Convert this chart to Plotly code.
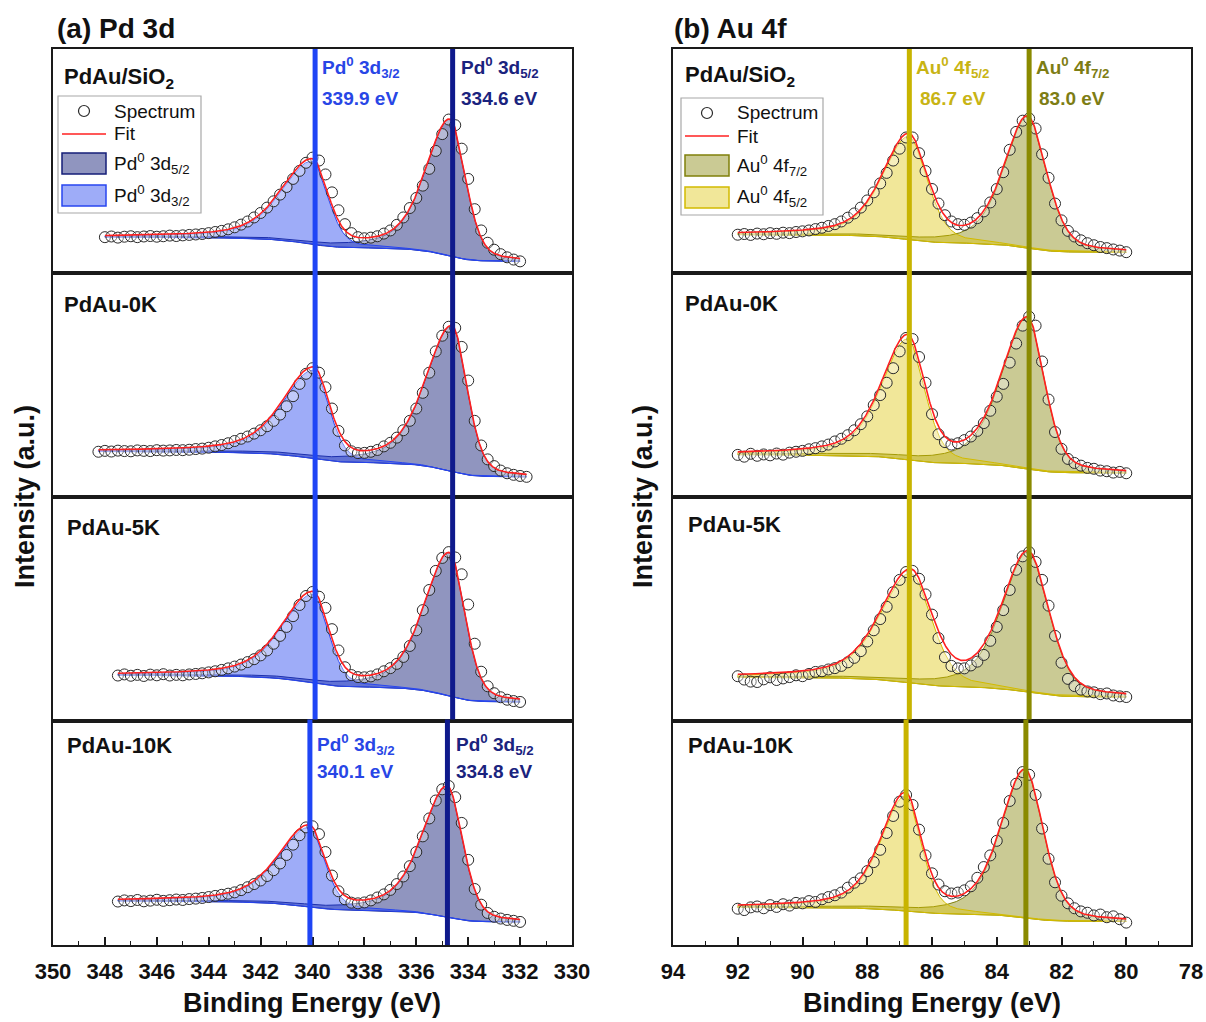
import numpy as np
import plotly.graph_objects as go
from plotly.subplots import make_subplots

FONT = "Liberation Sans, Arial, sans-serif"

# ---------------- data ----------------
sample_names = ["PdAu/SiO<sub>2</sub>", "PdAu-0K", "PdAu-5K", "PdAu-10K"]

# Pd 3d spectra (normalised intensity, % of panel height), energies descend by pd_step
pd_step = 0.25
pd_start = [348.0, 348.25, 347.5, 347.5]
pd_spec_sio2 = [16.0, 16.3, 15.8, 16.2, 16.4, 16.0, 16.3, 16.5, 16.2, 16.4, 16.7, 16.5, 16.8, 17.0, 17.2,
                17.4, 17.8, 18.3, 18.8, 19.5, 20.4, 21.6, 23.0, 24.8, 26.8, 29.2, 32.0, 35.0, 38.4, 42.0,
                45.6, 49.2, 51.5, 50.2, 44.0, 36.0, 28.0, 21.8, 17.8, 16.0, 15.5, 15.8, 16.4, 17.6, 19.0,
                21.5, 24.8, 29.0, 33.5, 39.0, 46.5, 54.5, 62.0, 68.5, 66.0, 55.5, 42.0, 28.5, 19.0, 13.5,
                10.4, 8.4, 7.0, 6.0, 5.2]
pd_spec_0k = [20.2, 20.6, 20.3, 20.7, 20.5, 20.4, 20.8, 20.6, 20.5, 20.9, 20.7, 20.8, 21.0, 20.9, 21.1,
              21.4, 21.6, 22.0, 22.6, 23.2, 24.0, 25.0, 26.0, 27.0, 28.3, 29.8, 31.6, 34.0, 36.8, 40.5,
              45.0, 50.5, 55.0, 57.5, 55.5, 49.0, 39.5, 29.5, 23.0, 20.4, 19.6, 19.7, 20.2, 21.0, 22.6,
              24.2, 26.5, 29.8, 34.0, 39.5, 46.5, 55.5, 65.0, 72.0, 76.0, 75.5, 67.0, 52.0, 34.0, 23.0,
              16.8, 13.8, 11.8, 10.6, 9.9, 9.4, 9.0]
pd_spec_5k = [20.3, 20.8, 20.2, 20.6, 20.1, 20.7, 20.4, 20.9, 20.3, 20.6, 20.4, 20.8, 21.0, 21.3, 21.7,
              22.2, 22.8, 23.5, 24.3, 25.2, 26.3, 27.6, 29.3, 31.5, 34.5, 38.0, 42.0, 46.8, 51.8, 55.8,
              57.6, 55.5, 50.5, 41.0, 31.5, 24.0, 20.5, 19.6, 19.5, 19.9, 20.8, 22.2, 23.6, 25.5, 28.6,
              33.5, 40.5, 49.5, 58.5, 67.0, 72.8, 75.4, 73.0, 65.5, 52.0, 34.5, 22.0, 15.5, 12.4, 10.6,
              9.5, 8.9, 8.5]
pd_spec_10k = [19.4, 19.9, 19.6, 20.1, 19.5, 19.8, 20.2, 19.7, 20.0, 20.3, 20.1, 20.5, 20.7, 21.0, 21.4,
               21.9, 22.4, 22.9, 23.5, 24.5, 25.8, 27.2, 28.8, 30.8, 33.4, 36.4, 40.2, 44.8, 49.0, 52.5,
               53.0, 49.5, 41.5, 31.0, 24.0, 20.4, 18.9, 18.6, 19.0, 19.9, 21.2, 22.6, 24.6, 27.2, 30.6,
               35.2, 41.5, 48.5, 56.5, 64.5, 69.5, 71.0, 66.0, 54.5, 38.0, 25.0, 18.0, 14.3, 12.6, 11.8,
               11.2, 10.8, 10.3]
pd_spectra = [pd_spec_sio2, pd_spec_0k, pd_spec_5k, pd_spec_10k]

# fitted components: [centre (eV), height, low-BE half width, high-BE half width]
pd52_fit = [[334.70, 61.0, 0.70, 1.10], [334.62, 65.0, 0.68, 1.20],
            [334.72, 64.0, 0.70, 1.15], [334.80, 58.5, 0.70, 1.15]]
pd32_fit = [[340.00, 37.0, 0.70, 1.40], [339.95, 39.5, 0.70, 1.40],
            [339.97, 39.5, 0.70, 1.40], [340.12, 35.5, 0.70, 1.40]]
pd_bg_ends = [[5.2, 16.0], [9.0, 20.3], [8.5, 20.4], [10.3, 19.6]]  # (low-BE end, high-BE end)
pd_shape = [0.30, 0.50]  # Lorentzian fraction (low-BE side, high-BE side)

# Au 4f spectra
au_step = 0.2
au_start = [92.0, 92.0, 92.0, 92.0]
au_spec_sio2 = [17.1, 17.4, 17.0, 17.6, 17.3, 17.8, 17.5, 18.0, 17.8, 18.3, 18.6, 19.0, 19.6, 20.2, 21.0,
                21.8, 23.0, 24.7, 26.6, 29.2, 32.4, 36.0, 40.0, 44.7, 50.2, 55.5, 60.5, 60.5, 53.5, 45.5,
                37.5, 31.0, 25.8, 23.0, 21.8, 21.5, 22.5, 24.5, 27.5, 31.5, 37.5, 45.0, 55.0, 63.0, 68.0,
                69.0, 64.5, 53.0, 42.5, 31.0, 23.5, 18.8, 16.3, 14.6, 13.3, 12.4, 11.6, 11.1, 10.5, 10.0,
                9.3]
au_spec_0k = [18.8, 18.0, 19.3, 18.4, 19.0, 18.6, 19.4, 18.9, 19.8, 20.2, 20.6, 21.3, 21.8, 22.6, 23.4,
              24.8, 26.0, 27.6, 29.8, 32.5, 36.0, 41.0, 45.5, 51.0, 57.5, 65.0, 71.0, 70.5, 62.5, 51.0,
              37.0, 28.0, 24.5, 23.4, 24.0, 25.4, 27.0, 29.5, 33.0, 38.5, 44.8, 50.5, 60.0, 68.5, 76.5,
              80.5, 76.5, 60.5, 43.5, 29.0, 21.5, 17.0, 15.2, 14.0, 13.0, 12.6, 11.8, 11.5, 10.9, 11.2,
              10.6]
au_spec_5k = [20.0, 18.5, 17.6, 17.4, 18.6, 19.5, 18.3, 19.0, 19.6, 20.4, 20.0, 21.0, 21.9, 22.2, 23.0,
              23.6, 24.6, 26.2, 28.2, 31.2, 35.5, 40.5, 45.5, 51.0, 57.5, 63.0, 66.5, 67.0, 63.5, 56.5,
              47.5, 37.0, 28.5, 24.6, 23.5, 23.5, 24.8, 26.5, 29.5, 35.8, 42.0, 49.5, 58.5, 67.5, 73.5,
              75.4, 71.0, 63.0, 51.5, 38.0, 26.0, 18.8, 15.6, 14.0, 13.2, 12.8, 12.0, 12.3, 11.4, 11.0,
              10.7]
au_spec_10k = [16.2, 15.6, 16.8, 17.2, 16.4, 17.8, 17.0, 18.2, 17.6, 18.8, 18.6, 19.6, 19.2, 20.4, 21.4,
               22.2, 23.4, 25.6, 27.8, 29.8, 33.0, 37.0, 42.5, 50.0, 57.6, 64.0, 67.0, 62.5, 51.5, 40.0,
               32.0, 27.0, 24.0, 23.0, 23.4, 24.4, 26.2, 30.0, 34.8, 40.0, 46.5, 54.5, 64.3, 72.0, 77.2,
               76.0, 67.0, 52.0, 38.5, 28.0, 22.0, 18.6, 16.4, 15.0, 14.4, 13.2, 13.6, 12.4, 12.8, 11.5,
               10.0]
au_spectra = [au_spec_sio2, au_spec_0k, au_spec_5k, au_spec_10k]

au72_fit = [[83.05, 58.5, 0.70, 0.85], [83.05, 67.5, 0.62, 0.95],
            [83.03, 62.5, 0.76, 0.95], [83.13, 66.0, 0.68, 0.88]]
au52_fit = [[86.72, 46.0, 0.68, 0.95], [86.75, 54.0, 0.62, 0.95],
            [86.66, 49.0, 0.77, 1.10], [86.82, 51.4, 0.58, 0.90]]
au_bg_ends = [[9.2, 17.1], [10.7, 18.9], [10.7, 19.5], [10.5, 16.8]]
au_shape = [0.35, 0.50]

pd_ticks = list(range(350, 329, -2))
pd_minor = list(range(349, 330, -2))
au_ticks = list(range(94, 77, -2))
au_minor = list(range(93, 78, -2))

pd_marks = [(339.9, 340.1), (334.6, 334.8)]   # (top three panels, bottom panel)
au_marks = [(86.7, 86.8), (83.0, 83.1)]

# ---------------- styling ----------------
W, H = 1206, 1022
L, R, T, B = 53, 1191, 49, 945


def xp(px):
    return (px - L) / (R - L)


def yp(py):
    return (B - py) / (B - T)


C_PD52, C_PD32 = "#141e78", "#2846f0"
F_PD52, F_PD32 = "rgba(20,30,120,0.47)", "rgba(40,70,240,0.45)"
C_AU72, C_AU52 = "#80800a", "#d2bb00"
F_AU72, F_AU52 = "rgba(128,128,0,0.42)", "rgba(220,195,0,0.40)"
LN_PD32, LN_PD52 = "#1f45f5", "#0f1a8c"
LN_AU52, LN_AU72 = "#c8b400", "#8a8a00"


def peak(E, p, shape):
    e0, a, wl, wh = p
    d = E - e0
    w = np.where(d < 0, wl, wh)
    m = np.where(d < 0, shape[0], shape[1])
    t = (d / w) ** 2
    return a * (m / (1 + t) + (1 - m) * np.exp(-np.log(2) * t))


def model(e_lo, e_hi, p1, p2, ends, shape):
    E = np.linspace(e_lo, e_hi, 700)
    c1 = peak(E, p1, shape)
    c2 = peak(E, p2, shape)
    tot = c1 + c2
    cum = np.concatenate([[0.0], np.cumsum((tot[1:] + tot[:-1]) / 2 * np.diff(E))])
    bg = ends[0] + (ends[1] - ends[0]) * cum / cum[-1]
    return E, c1, c2, bg


fig = make_subplots(rows=4, cols=2, horizontal_spacing=0.05, vertical_spacing=0)

left_dom = [0, xp(572)]
right_dom = [xp(673), 1]

names = {
    "pd": ("Pd<sup>0</sup> 3d<sub>5/2</sub>", "Pd<sup>0</sup> 3d<sub>3/2</sub>"),
    "au": ("Au<sup>0</sup> 4f<sub>7/2</sub>", "Au<sup>0</sup> 4f<sub>5/2</sub>"),
}

for col, kind in [(1, "pd"), (2, "au")]:
    for i in range(4):
        row = i + 1
        if kind == "pd":
            vals, start, step = pd_spectra[i], pd_start[i], pd_step
            p1, p2, ends, shape = pd52_fit[i], pd32_fit[i], pd_bg_ends[i], pd_shape
            lc1, lc2, fc1, fc2 = C_PD52, C_PD32, F_PD52, F_PD32
        else:
            vals, start, step = au_spectra[i], au_start[i], au_step
            p1, p2, ends, shape = au72_fit[i], au52_fit[i], au_bg_ends[i], au_shape
            lc1, lc2, fc1, fc2 = C_AU72, C_AU52, F_AU72, F_AU52
        vals = np.array(vals)
        Es = start - step * np.arange(len(vals))
        E, c1, c2, bg = model(Es.min(), Es.max(), p1, p2, ends, shape)
        n1, n2 = names[kind]
        for c, lc, fc, nm in [(c1, lc1, fc1, n1), (c2, lc2, fc2, n2)]:
            fig.add_trace(go.Scatter(
                x=np.concatenate([E, E[::-1]]), y=np.concatenate([bg + c, bg[::-1]]),
                mode="lines", fill="toself", fillcolor=fc, line=dict(color=lc, width=1),
                name=nm, showlegend=False, hoverinfo="skip"), row=row, col=col)
        fig.add_trace(go.Scatter(
            x=Es, y=vals, mode="markers", name="Spectrum", showlegend=False,
            marker=dict(symbol="circle", size=11, color="rgba(255,255,255,0.35)",
                        line=dict(color="#2a2a2a", width=1))), row=row, col=col)
        fig.add_trace(go.Scatter(
            x=E, y=bg + c1 + c2, mode="lines", name="Fit", showlegend=False,
            line=dict(color="#ff2020", width=1.6)), row=row, col=col)

        ax_rng = [350, 330] if kind == "pd" else [94, 78]
        ticks = pd_ticks if kind == "pd" else au_ticks
        minor = pd_minor if kind == "pd" else au_minor
        xkw = dict(range=ax_rng, domain=left_dom if col == 1 else right_dom, showgrid=False,
                   zeroline=False, showline=True, mirror=True, linecolor="#1a1a1a", linewidth=1.6,
                   automargin=False)
        if row == 4:
            xkw.update(tickmode="array", tickvals=ticks, ticktext=[f"<b>{t}</b>" for t in ticks],
                       ticks="inside", ticklen=8, tickwidth=1.6, tickcolor="#1a1a1a",
                       tickfont=dict(family=FONT, size=22, color="#111"), ticklabelstandoff=6,
                       minor=dict(tickmode="array", tickvals=minor, ticks="inside", ticklen=4,
                                  tickwidth=1.4, tickcolor="#1a1a1a"))
        else:
            xkw.update(showticklabels=False, ticks="")
        fig.update_xaxes(row=row, col=col, **xkw)
        fig.update_yaxes(row=row, col=col, range=[0, 100], domain=[0.75 - 0.25 * i, 1 - 0.25 * i],
                         showgrid=False, zeroline=False, showticklabels=False, ticks="",
                         showline=True, mirror=True, linecolor="#1a1a1a", linewidth=1.6,
                         automargin=False)

# vertical reference lines
split = yp(719.5)
shapes = []
for (top_v, bot_v), clr in zip(pd_marks, [LN_PD32, LN_PD52]):
    shapes.append(dict(type="line", xref="x7", yref="paper", x0=top_v, x1=top_v, y0=split, y1=1,
                       line=dict(color=clr, width=5), layer="above"))
    shapes.append(dict(type="line", xref="x7", yref="paper", x0=bot_v, x1=bot_v, y0=0, y1=split,
                       line=dict(color=clr, width=5), layer="above"))
for (top_v, bot_v), clr in zip(au_marks, [LN_AU52, LN_AU72]):
    shapes.append(dict(type="line", xref="x8", yref="paper", x0=top_v, x1=top_v, y0=split, y1=1,
                       line=dict(color=clr, width=5), layer="above"))
    shapes.append(dict(type="line", xref="x8", yref="paper", x0=bot_v, x1=bot_v, y0=0, y1=split,
                       line=dict(color=clr, width=5), layer="above"))

ann = []


def text(px, py, s, size, color="#111", anchor="left", angle=0):
    ann.append(dict(x=xp(px), y=yp(py), xref="paper", yref="paper", text=s, showarrow=False,
                    xanchor=anchor, yanchor="middle", textangle=angle,
                    font=dict(family=FONT, size=size, color=color)))


def box(x0, y0, x1, y1, fill, line, lw=1.2):
    shapes.append(dict(type="rect", xref="paper", yref="paper", x0=xp(x0), x1=xp(x1),
                       y0=yp(y1), y1=yp(y0), fillcolor=fill, line=dict(color=line, width=lw),
                       layer="above"))


# hand-drawn legends (patch style as in the reference)
def legend(x0, y0, x1, y1, name_a, name_b, fa, la, fb, lb):
    box(x0, y0, x1, y1, "white", "#a8a8a8", 1.2)
    sx0, sx1 = x0 + 4, x0 + 48
    cx = (sx0 + sx1) / 2
    tx = x0 + 54
    shapes.append(dict(type="circle", xref="paper", yref="paper", x0=xp(cx - 5.5), x1=xp(cx + 5.5),
                       y0=yp(y0 + 20.5), y1=yp(y0 + 9.5), line=dict(color="#2a2a2a", width=1.2),
                       fillcolor="white", layer="above"))
    text(tx, y0 + 15, "Spectrum", 19)
    shapes.append(dict(type="line", xref="paper", yref="paper", x0=xp(sx0), x1=xp(sx1),
                       y0=yp(y0 + 38), y1=yp(y0 + 38), line=dict(color="#ff2020", width=1.6),
                       layer="above"))
    text(tx, y0 + 38, "Fit", 19)
    box(sx0, y0 + 57, sx1, y0 + 78, fa, la, 1.5)
    text(tx, y0 + 67, name_a, 19)
    box(sx0, y0 + 89, sx1, y0 + 110, fb, lb, 1.5)
    text(tx, y0 + 99, name_b, 19)


legend(58, 96, 201, 213, names["pd"][0], names["pd"][1], F_PD52, C_PD52, F_PD32, C_PD32)
legend(681, 98, 823, 215, names["au"][0], names["au"][1], F_AU72, C_AU72, F_AU52, C_AU52)

text(55, 28, "<b>(a) Pd 3d</b>", 28)
text(672, 28, "<b>(b) Au 4f</b>", 28)
text(312, 1003, "<b>Binding Energy (eV)</b>", 27, anchor="center")
text(932, 1003, "<b>Binding Energy (eV)</b>", 27, anchor="center")
text(25, 497, "<b>Intensity (a.u.)</b>", 27, anchor="center", angle=-90)
text(643, 497, "<b>Intensity (a.u.)</b>", 27, anchor="center", angle=-90)

left_lab = [(62, 78), (62, 304), (65, 527), (65, 745)]
right_lab = [(683, 76), (683, 303), (686, 524), (686, 745)]
for nm, (lx, ly), (rx, ry) in zip(sample_names, left_lab, right_lab):
    text(lx, ly, f"<b>{nm}</b>", 22)
    text(rx, ry, f"<b>{nm}</b>", 22)

PD32_T, PD52_T, AU52_T, AU72_T = "#2846e6", "#1a237e", "#c8b414", "#7d7d14"
text(320, 68, f"<b>{names['pd'][1]}</b>", 19, PD32_T)
text(320, 98, f"<b>{pd_marks[0][0]} eV</b>", 19, PD32_T)
text(459, 68, f"<b>{names['pd'][0]}</b>", 19, PD52_T)
text(459, 98, f"<b>{pd_marks[1][0]} eV</b>", 19, PD52_T)
text(315, 744, f"<b>{names['pd'][1]}</b>", 19, PD32_T)
text(315, 771, f"<b>{pd_marks[0][1]} eV</b>", 19, PD32_T)
text(454, 744, f"<b>{names['pd'][0]}</b>", 19, PD52_T)
text(454, 771, f"<b>{pd_marks[1][1]} eV</b>", 19, PD52_T)
text(914, 68, f"<b>{names['au'][1]}</b>", 19, AU52_T)
text(918, 98, f"<b>{au_marks[0][0]} eV</b>", 19, AU52_T)
text(1034, 68, f"<b>{names['au'][0]}</b>", 19, AU72_T)
text(1037, 98, f"<b>{au_marks[1][0]:.1f} eV</b>", 19, AU72_T)

fig.update_layout(
    width=W, height=H, autosize=False, margin=dict(l=L, r=W - R, t=T, b=H - B, autoexpand=False),
    paper_bgcolor="white", plot_bgcolor="white", showlegend=False,
    shapes=shapes, annotations=ann,
)

fig.write_html("out.html")
